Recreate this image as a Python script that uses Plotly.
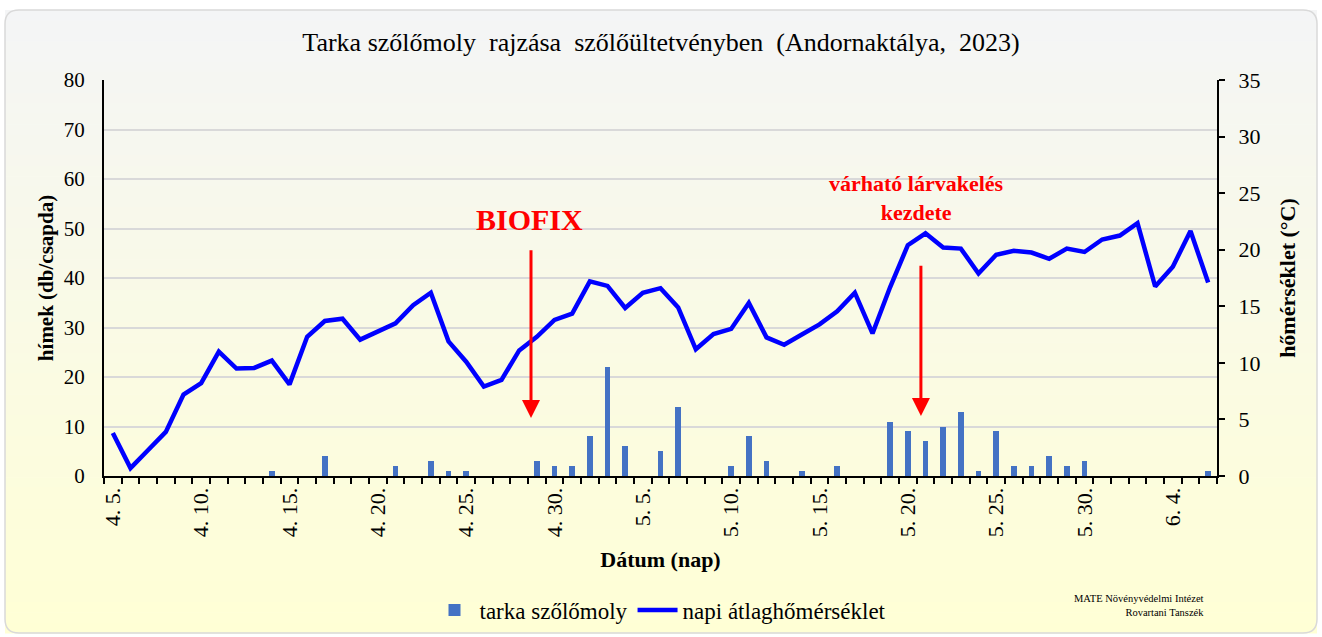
import plotly.graph_objects as go
import pandas as pd

# ---- data -------------------------------------------------------------
dates = pd.date_range("2023-04-05", "2023-06-06", freq="D")
date_labels = [f"{d.month}. {d.day}." for d in dates]

moth_counts = [
    0, 0, 0, 0, 0, 0, 0, 0, 0, 1,      # 4.5 - 4.14
    0, 0, 4, 0, 0, 0, 2, 0, 3, 1,      # 4.15 - 4.24
    1, 0, 0, 0, 3, 2, 2, 8, 22, 6,     # 4.25 - 5.4
    0, 5, 14, 0, 0, 2, 8, 3, 0, 1,     # 5.5 - 5.14
    0, 2, 0, 0, 11, 9, 7, 10, 13, 1,   # 5.15 - 5.24
    9, 2, 2, 4, 2, 3, 0, 0, 0, 0,      # 5.25 - 6.3
    0, 0, 1,                           # 6.4 - 6.6
]

mean_temp = [
    3.8, 0.7, 2.3, 3.9, 7.2, 8.2, 11.0, 9.5, 9.55, 10.2,
    8.1, 12.3, 13.7, 13.9, 12.05, 12.8, 13.5, 15.1, 16.2, 11.9,
    10.1, 7.9, 8.5, 11.1, 12.3, 13.8, 14.35, 17.2, 16.8, 14.85,
    16.2, 16.6, 14.9, 11.2, 12.55, 13.0, 15.3, 12.25, 11.6, 12.5,
    13.4, 14.55, 16.2, 12.6, 16.7, 20.4, 21.45, 20.2, 20.1, 17.9,
    19.55, 19.9, 19.75, 19.2, 20.1, 19.8, 20.9, 21.25, 22.35, 16.75,
    18.5, 21.65, 17.1,
]

tick_positions = [0, 5, 10, 15, 20, 25, 30, 35, 40, 45, 50, 55, 60]
tick_labels = ["4. 5.", "4. 10.", "4. 15.", "4. 20.", "4. 25.", "4. 30.", "5. 5.",
               "5. 10.", "5. 15.", "5. 20.", "5. 25.", "5. 30.", "6. 4."]

idx = list(range(len(dates)))

SERIF = "Liberation Serif"

fig = go.Figure()
fig.add_trace(go.Bar(
    x=idx, y=moth_counts, name="tarka szőlőmoly",
    marker=dict(color="#4472C4", line=dict(width=0)), width=0.32,
    yaxis="y", customdata=date_labels,
))
fig.add_trace(go.Scatter(
    x=idx, y=mean_temp, name="napi átlaghőmérséklet", mode="lines",
    line=dict(color="#0000FF", width=4.5), yaxis="y2", customdata=date_labels,
))

# ---- background gradient (bands) --------------------------------------
W, H = 1322, 637
L, R, T, B = 104, 105, 80, 161
pw, ph = W - L - R, H - T - B


def px_to_paper_x(px):
    return (px - L) / pw


def px_to_paper_y(py):
    return (H - B - py) / ph


shapes = []
top_col = (244, 245, 246)
bot_col = (255, 255, 213)
nb = 60
y_top, y_bot = 10, 633
for i in range(nb):
    f = (i + 0.5) / nb
    c = tuple(round(top_col[k] + (bot_col[k] - top_col[k]) * f) for k in range(3))
    y0 = y_top + (y_bot - y_top) * i / nb
    y1 = y_top + (y_bot - y_top) * (i + 1) / nb + 0.6
    shapes.append(dict(
        type="rect", xref="paper", yref="paper", layer="below",
        x0=px_to_paper_x(5), x1=px_to_paper_x(1317),
        y0=px_to_paper_y(y1), y1=px_to_paper_y(y0),
        fillcolor=f"rgb{c}", line=dict(width=0),
    ))

# rounded border
x0p, x1p = 5, 1317
y0p, y1p = 10, 633
r = 14
path = (f"M {x0p + r},{y0p} L {x1p - r},{y0p} Q {x1p},{y0p} {x1p},{y0p + r} "
        f"L {x1p},{y1p - r} Q {x1p},{y1p} {x1p - r},{y1p} L {x0p + r},{y1p} "
        f"Q {x0p},{y1p} {x0p},{y1p - r} L {x0p},{y0p + r} Q {x0p},{y0p} {x0p + r},{y0p} Z")


def conv_path(p):
    out = []
    for tok in p.split(" "):
        if "," in tok:
            a, b = tok.split(",")
            out.append(f"{px_to_paper_x(float(a)):.5f},{px_to_paper_y(float(b)):.5f}")
        else:
            out.append(tok)
    return " ".join(out)


shapes.append(dict(type="path", xref="paper", yref="paper", layer="below",
                   path=conv_path(path), line=dict(color="#D9D9D9", width=1.5),
                   fillcolor="rgba(0,0,0,0)"))

# ---- annotations ------------------------------------------------------
annotations = [
    dict(x=23.67, y=11.7, ax=23.67, ay=45.9, xref="x", yref="y", axref="x", ayref="y",
         text="", showarrow=True, arrowhead=2, arrowsize=1.2, arrowwidth=3,
         arrowcolor="#FF0000"),
    dict(x=45.74, y=12.1, ax=45.74, ay=42.8, xref="x", yref="y", axref="x", ayref="y",
         text="", showarrow=True, arrowhead=2, arrowsize=1.2, arrowwidth=3,
         arrowcolor="#FF0000"),
    dict(x=23.6, y=51.9, xref="x", yref="y", text="BIOFIX", showarrow=False,
         font=dict(family=SERIF, size=30, color="#FF0000", weight="bold")),
    dict(x=45.5, y=56.2, xref="x", yref="y", text="várható lárvakelés<br>kezdete",
         showarrow=False, align="center",
         font=dict(family=SERIF, size=22, color="#FF0000", weight="bold")),
    dict(x=px_to_paper_x(1206), y=px_to_paper_y(605), xref="paper", yref="paper",
         xanchor="right", yanchor="middle", align="right", showarrow=False,
         text="MATE Növényvédelmi Intézet<br>Rovartani Tanszék",
         font=dict(family=SERIF, size=10.5, color="#000000")),
]

fig.update_layout(
    width=W, height=H,
    margin=dict(l=L, r=R, t=T, b=B, autoexpand=False),
    paper_bgcolor="white",
    plot_bgcolor="rgba(0,0,0,0)",
    title=dict(text="Tarka szőlőmoly  rajzása  szőlőültetvényben  (Andornaktálya,  2023)",
               x=0.5, xanchor="center", y=1 - 42 / H, yanchor="middle",
               font=dict(family=SERIF, size=26, color="#000000")),
    font=dict(family=SERIF, color="#000000"),
    bargap=0,
    showlegend=True,
    legend=dict(orientation="h", x=0.5, xanchor="center",
                y=px_to_paper_y(610), yanchor="middle",
                font=dict(family=SERIF, size=23, color="#000000"),
                bgcolor="rgba(0,0,0,0)", itemwidth=40, tracegroupgap=0),
    xaxis=dict(
        range=[-0.5, len(idx) - 0.5], tickmode="array", tickvals=tick_positions,
        ticktext=tick_labels, tickangle=-90, ticks="", showgrid=False,
        showline=True, linecolor="#000000", linewidth=2, zeroline=False,
        automargin=False, ticklabelstandoff=1,
        tickfont=dict(family=SERIF, size=22, color="#000000"),
        minor=dict(ticks="outside", tick0=-0.5, dtick=1, ticklen=6,
                   tickcolor="#000000", tickwidth=2, showgrid=False),
        title=dict(text="Dátum (nap)", standoff=15,
                   font=dict(family=SERIF, size=22, color="#000000", weight="bold")),
    ),
    yaxis=dict(
        range=[0, 80], dtick=10, tick0=0, showgrid=True, gridcolor="#D9D9D9",
        gridwidth=1.5, showline=True, linecolor="#000000", linewidth=2,
        zeroline=False, ticks="", ticklabelstandoff=13, automargin=False,
        tickfont=dict(family=SERIF, size=21, color="#000000"),
        title=dict(text="hímek (db/csapda)", standoff=4,
                   font=dict(family=SERIF, size=21, color="#000000", weight="bold")),
    ),
    yaxis2=dict(
        range=[0, 35], dtick=5, tick0=0, overlaying="y", side="right",
        showgrid=False, showline=True, linecolor="#000000", linewidth=2,
        zeroline=False, ticks="outside", ticklen=6, tickwidth=2, tickcolor="#000000",
        ticklabelstandoff=9, automargin=False,
        tickfont=dict(family=SERIF, size=22, color="#000000"),
        title=dict(text="hőmérséklet (°C)", standoff=20,
                   font=dict(family=SERIF, size=22, color="#000000", weight="bold")),
    ),
    shapes=shapes,
    annotations=annotations,
)

fig.write_html("out.html", include_plotlyjs=True,
               config={"displayModeBar": False},
               post_script="document.body.style.margin='0';")
